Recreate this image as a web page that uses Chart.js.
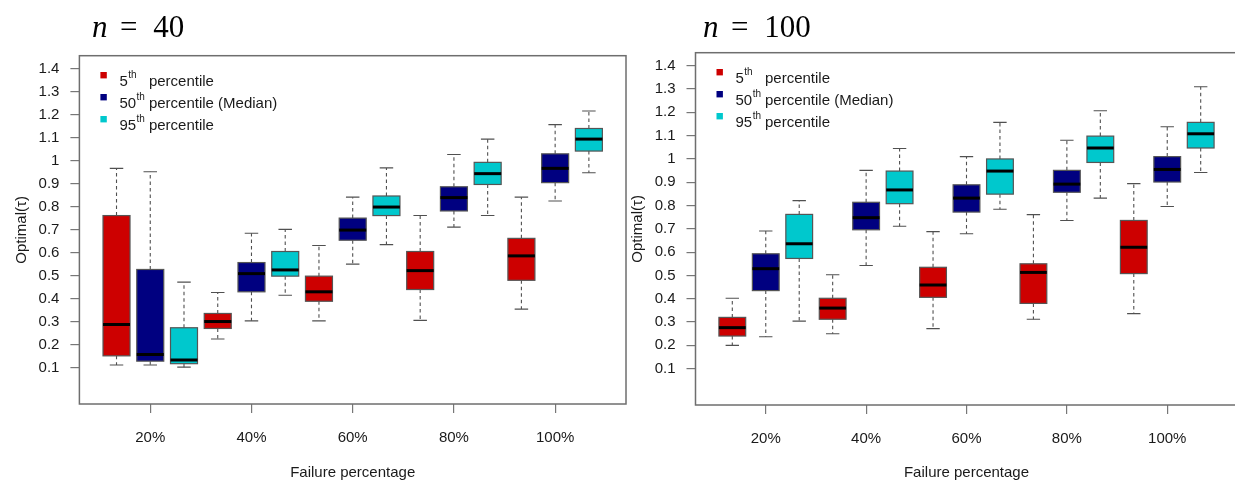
<!DOCTYPE html>
<html><head><meta charset="utf-8">
<script src="https://cdn.jsdelivr.net/npm/chart.js@4.4.1/dist/chart.umd.min.js"></script>
<style>
html,body{margin:0;padding:0;background:#fff;overflow:hidden;width:1235px;height:483px;position:relative;}
.wrap{position:absolute;top:0;width:640px;height:483px;}
canvas{display:block;}
</style></head><body>
<div class="wrap" style="left:0px"><canvas id="c1" width="640" height="483" style="width:640px;height:483px"></canvas></div>
<div class="wrap" style="left:616px"><canvas id="c2" width="640" height="483" style="width:640px;height:483px"></canvas></div>
<script>
// ---------- data ----------
const categories = ['20%', '40%', '60%', '80%', '100%'];
const seriesNumbers = ['5', '50', '95'];
const seriesTexts = ['percentile', 'percentile (Median)', 'percentile'];
const seriesColors = ['#CD0000', '#000080', '#00C8CD'];
const yTicks = [0.1, 0.2, 0.3, 0.4, 0.5, 0.6, 0.7, 0.8, 0.9, 1.0, 1.1, 1.2, 1.3, 1.4];
const xAxisTitle = 'Failure percentage';
const yAxisTitle = 'Optimal(\u03C4)';

// each entry: [lower whisker, Q1, median, Q3, upper whisker]
const n40_p5 = [[0.113,0.153,0.289,0.762,0.967],[0.226,0.272,0.302,0.337,0.428],[0.305,0.390,0.431,0.499,0.632],[0.307,0.441,0.523,0.606,0.762],[0.356,0.481,0.587,0.663,0.842]];
const n40_p50 = [[0.113,0.130,0.159,0.528,0.952],[0.305,0.431,0.510,0.558,0.685],[0.551,0.655,0.699,0.751,0.842],[0.712,0.782,0.840,0.887,1.027],[0.825,0.905,0.967,1.030,1.157]];
const n40_p95 = [[0.104,0.119,0.135,0.275,0.473],[0.416,0.499,0.526,0.606,0.702],[0.636,0.762,0.799,0.847,0.969],[0.762,0.897,0.944,0.993,1.094],[0.948,1.042,1.094,1.140,1.216]];

const n100_p5 = [[0.200,0.240,0.276,0.320,0.402],[0.250,0.312,0.360,0.402,0.503],[0.272,0.406,0.459,0.535,0.688],[0.312,0.380,0.513,0.550,0.761],[0.336,0.508,0.621,0.736,0.894]];
const n100_p50 = [[0.237,0.435,0.529,0.593,0.691],[0.543,0.696,0.748,0.814,0.951],[0.679,0.772,0.832,0.889,1.010],[0.736,0.857,0.892,0.951,1.080],[0.796,0.901,0.955,1.010,1.138]];
const n100_p95 = [[0.304,0.573,0.636,0.762,0.821],[0.711,0.808,0.867,0.948,1.045],[0.784,0.849,0.948,1.000,1.157],[0.832,0.985,1.047,1.098,1.207],[0.942,1.047,1.108,1.157,1.310]];

// ---------- drawing ----------
const FONT = '"Liberation Sans", Arial, sans-serif';
Chart.defaults.font.family = FONT;
Chart.defaults.color = '#111';

const boxPlugin = {
  id: 'boxes',
  afterDatasetsDraw(chart) {
    const ctx = chart.ctx, xs = chart.scales.x, ys = chart.scales.y;
    const unit = xs.getPixelForValue(1) - xs.getPixelForValue(0);
    const halfBox = 0.4 * unit, halfCap = 0.2 * unit;
    chart.data.datasets.forEach((ds) => {
      ds.stats.forEach((s, i) => {
        const xp = xs.getPixelForValue(ds.data[i].x);
        const [lo, q1, med, q3, hi] = s.map(v => ys.getPixelForValue(v));
        ctx.save();
        ctx.strokeStyle = '#505050';
        ctx.lineWidth = 1.1;
        ctx.setLineDash([3.5, 3]);
        ctx.beginPath();
        ctx.moveTo(xp, q3); ctx.lineTo(xp, hi);
        ctx.moveTo(xp, q1); ctx.lineTo(xp, lo);
        ctx.stroke();
        ctx.setLineDash([]);
        ctx.beginPath();
        ctx.moveTo(xp - halfCap, hi); ctx.lineTo(xp + halfCap, hi);
        ctx.moveTo(xp - halfCap, lo); ctx.lineTo(xp + halfCap, lo);
        ctx.stroke();
        ctx.fillStyle = ds.boxColor;
        ctx.fillRect(xp - halfBox, q3, 2 * halfBox, q1 - q3);
        ctx.strokeStyle = '#555';
        ctx.lineWidth = 1.2;
        ctx.strokeRect(xp - halfBox, q3, 2 * halfBox, q1 - q3);
        ctx.strokeStyle = '#000';
        ctx.lineWidth = 3;
        ctx.beginPath();
        ctx.moveTo(xp - halfBox, med); ctx.lineTo(xp + halfBox, med);
        ctx.stroke();
        ctx.restore();
      });
    });
  }
};

const framePlugin = {
  id: 'frame',
  afterDraw(chart) {
    const {left, top, right, bottom} = chart.chartArea;
    const ctx = chart.ctx;
    ctx.save();
    ctx.strokeStyle = '#6e6e6e';
    ctx.lineWidth = 1.5;
    ctx.strokeRect(left, top, right - left, bottom - top);
    ctx.restore();
  }
};

const legendPlugin = {
  id: 'rlegend',
  afterDraw(chart) {
    const ctx = chart.ctx, {left, top} = chart.chartArea;
    ctx.save();
    seriesNumbers.forEach((num, k) => {
      const sy = top + 19.5 + k * 22;
      const by = top + 30 + k * 22;
      ctx.fillStyle = seriesColors[k];
      ctx.fillRect(left + 21, sy - 3.2, 6.4, 6.4);
      ctx.fillStyle = '#1a1a1a';
      ctx.textBaseline = 'alphabetic';
      ctx.textAlign = 'left';
      ctx.font = '15px ' + FONT;
      ctx.fillText(num, left + 40, by);
      const w = ctx.measureText(num).width;
      ctx.font = '10px ' + FONT;
      ctx.fillText('th', left + 40 + w + 0.5, by - 8);
      ctx.font = '15px ' + FONT;
      ctx.fillText(seriesTexts[k], left + 69.5, by);
    });
    ctx.restore();
  }
};

const titlePlugin = {
  id: 'ntitle',
  afterDraw(chart) {
    const o = chart.options.plugins.ntitle;
    const ctx = chart.ctx;
    ctx.save();
    ctx.fillStyle = '#000';
    ctx.textBaseline = 'alphabetic';
    ctx.textAlign = 'left';
    ctx.font = 'italic 31px "Liberation Serif", "DejaVu Serif", serif';
    ctx.fillText('n', o.x, o.y);
    ctx.font = '31px "Liberation Serif", "DejaVu Serif", serif';
    ctx.textAlign = 'center';
    ctx.fillText('=', o.x + 36.7, o.y);
    ctx.textAlign = 'left';
    ctx.fillText(o.num, o.x + 61.3, o.y);
    ctx.restore();
  }
};

function buildChart(id, statsList, geom) {
  const datasets = statsList.map((stats, j) => ({
    label: seriesNumbers[j] + 'th ' + seriesTexts[j],
    stats: stats,
    boxColor: seriesColors[j],
    data: stats.map((s, i) => ({x: 3 * i + j + 1, y: s[2]})),
    pointRadius: 0,
    pointHoverRadius: 0,
    showLine: false
  }));
  return new Chart(document.getElementById(id), {
    type: 'scatter',
    data: {datasets},
    plugins: [boxPlugin, framePlugin, legendPlugin, titlePlugin],
    options: {
      responsive: false,
      animation: false,
      events: [],
      layout: {padding: {left: 0, top: geom.top, right: geom.right, bottom: 0}},
      plugins: {
        legend: {display: false},
        tooltip: {enabled: false},
        ntitle: {x: geom.tx, y: geom.ty, num: geom.num}
      },
      scales: {
        x: {
          type: 'linear', min: -0.1, max: 16.1,
          afterBuildTicks: (s) => { s.ticks = categories.map((c, i) => ({value: 3 * i + 2})); },
          afterFit: (s) => { s.height = geom.xh; },
          ticks: {
            callback: (v) => categories[Math.round((v - 2) / 3)],
            font: {size: 15}, color: '#1a1a1a', padding: 16, maxRotation: 0, autoSkip: false
          },
          grid: {drawOnChartArea: false, drawTicks: true, tickLength: 9, color: '#777', lineWidth: 1.2},
          border: {display: false},
          title: {display: true, text: xAxisTitle, font: {size: 15}, color: '#1a1a1a', padding: {top: 0, bottom: 1}}
        },
        y: {
          type: 'linear', min: -0.056, max: 1.456,
          afterBuildTicks: (s) => { s.ticks = yTicks.map(v => ({value: v})); },
          afterFit: (s) => { s.width = geom.yw; },
          ticks: {
            callback: (v) => String(parseFloat(Number(v).toFixed(1))),
            font: {size: 15}, color: '#1a1a1a', padding: 11, autoSkip: false
          },
          grid: {drawOnChartArea: false, drawTicks: true, tickLength: 9, color: '#777', lineWidth: 1.2},
          border: {display: false},
          title: {display: true, text: yAxisTitle, font: {size: 15}, color: '#1a1a1a', padding: {top: 12.5, bottom: 0}}
        }
      }
    }
  });
}

buildChart('c1', [n40_p5, n40_p50, n40_p95], {top: 55.7, right: 14, xh: 79, yw: 79.4, tx: 92, ty: 37.3, num: '40'});
buildChart('c2', [n100_p5, n100_p50, n100_p95], {top: 52.7, right: 18.5, xh: 78, yw: 79.5, tx: 87, ty: 36.5, num: '100'});
</script>
</body></html>
